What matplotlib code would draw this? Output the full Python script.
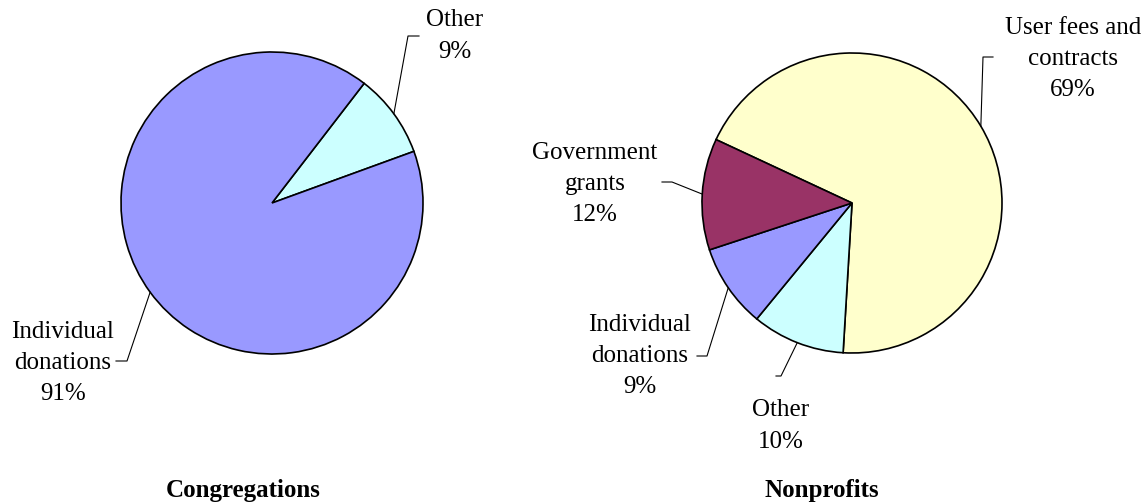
import matplotlib.pyplot as plt
import numpy as np

plt.rcParams['font.family'] = ['Liberation Serif', 'DejaVu Serif']

# revenue sources, listed clockwise
cong_labels = ["Other", "Individual\ndonations"]
cong_values = [9, 91]
cong_colors = ["#CCFFFF", "#9999FF"]

np_labels = ["User fees and\ncontracts", "Other", "Individual\ndonations", "Government\ngrants"]
np_values = [69, 10, 9, 12]
np_colors = ["#FFFFCC", "#CCFFFF", "#9999FF", "#993366"]

W, H = 1148, 503
fig = plt.figure(figsize=(W / 100, H / 100), dpi=100)
ax = fig.add_axes([0, 0, 1, 1])


def draw_pie(values, colors, center, radius, start):
    wedges, _ = ax.pie(values, colors=colors, startangle=start, counterclock=False,
                       center=center, radius=radius,
                       wedgeprops=dict(edgecolor="black", linewidth=1.2))
    return wedges


def leader(wedge, elbow, end, label, value, text_xy):
    # line from the middle of the wedge's arc out to the label
    mid = np.deg2rad((wedge.theta1 + wedge.theta2) / 2)
    cx, cy = wedge.center
    p0 = (cx + wedge.r * np.cos(mid), cy + wedge.r * np.sin(mid))
    xs = [p0[0], elbow[0], end[0]]
    ys = [p0[1], H - elbow[1], H - end[1]]
    ax.plot(xs, ys, color="black", lw=0.8)
    ax.text(text_xy[0], H - text_xy[1], f"{label}\n{value}%", ha="center", va="center",
            fontsize=18, linespacing=1.55)


w1 = draw_pie(cong_values, cong_colors, (272, H - 203), 151, 52.4)
leader(w1[0], (408, 36), (419, 36), cong_labels[0], cong_values[0], (455, 36))
leader(w1[1], (127, 361), (116, 361), cong_labels[1], cong_values[1], (63, 363))

w2 = draw_pie(np_values, np_colors, (852, H - 203), 150, 155.0)
leader(w2[0], (983, 57), (993, 57), np_labels[0], np_values[0], (1073, 59))
leader(w2[1], (781, 376), (776, 376), np_labels[1], np_values[1], (781, 426))
leader(w2[2], (707, 356), (697, 356), np_labels[2], np_values[2], (640, 356))
leader(w2[3], (672, 182), (662, 182), np_labels[3], np_values[3], (595, 184))

ax.text(243, H - 490, "Congregations", ha="center", va="center", fontsize=18, fontweight="bold")
ax.text(822, H - 490, "Nonprofits", ha="center", va="center", fontsize=18, fontweight="bold")

ax.set_xlim(0, W)
ax.set_ylim(0, H)
ax.set_aspect("equal")
ax.axis("off")

fig.savefig("out.png", dpi=100)
